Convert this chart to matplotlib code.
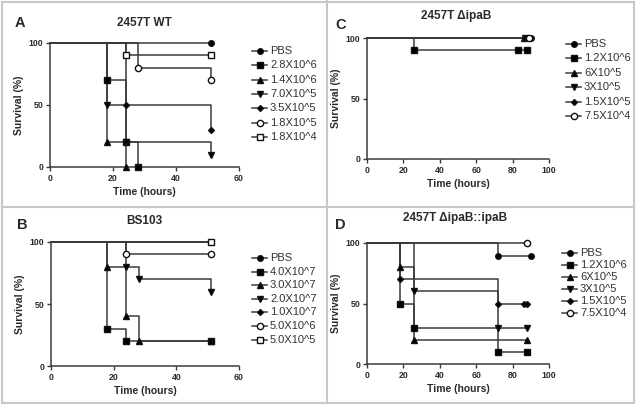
"""Kaplan-Meier survival curves, four strains"""

import matplotlib.pyplot as plt
from matplotlib.lines import Line2D
from matplotlib.patches import Rectangle

plt.rcParams['font.family'] = ['Liberation Sans', 'DejaVu Sans']

W, H = 636, 405

# panel A: 2457T WT
a_labels = ['PBS', '2.8X10^6', '1.4X10^6', '7.0X10^5', '3.5X10^5', '1.8X10^5', '1.8X10^4']
a_times = [[0, 51], [0, 18, 24, 28], [0, 18, 24], [0, 18, 24, 51],
           [0, 24, 51], [0, 28, 51], [0, 24, 51]]
a_surv = [[100, 100], [100, 70, 20, 0], [100, 20, 0], [100, 50, 20, 10],
          [100, 50, 30], [100, 80, 70], [100, 90, 90]]

# panel B: BS103
b_labels = ['PBS', '4.0X10^7', '3.0X10^7', '2.0X10^7', '1.0X10^7', '5.0X10^6', '5.0X10^5']
b_times = [[0, 51], [0, 18, 24, 51], [0, 18, 24, 28, 51], [0, 24, 28, 51],
           [0, 51], [0, 24, 51], [0, 51]]
b_surv = [[100, 100], [100, 30, 20, 20], [100, 80, 40, 20, 20], [100, 80, 70, 60],
          [100, 100], [100, 90, 90], [100, 100]]

# panel C: 2457T ΔipaB
c_labels = ['PBS', '1.2X10^6', '6X10^5', '3X10^5', '1.5X10^5', '7.5X10^4']
c_times = [[0, 90], [0, 26, 83, 88], [0, 86], [0, 87], [0, 88], [0, 89]]
c_surv = [[100, 100], [100, 90, 90, 90], [100, 100], [100, 100], [100, 100], [100, 100]]

# panel D: 2457T ΔipaB::ipaB
d_labels = ['PBS', '1.2X10^6', '6X10^5', '3X10^5', '1.5X10^5', '7.5X10^4']
d_times = [[0, 72, 90], [0, 18, 26, 72, 88], [0, 18, 26, 88], [0, 26, 72, 88],
           [0, 18, 72, 86, 88], [0, 88]]
d_surv = [[100, 88.9, 88.9], [100, 50, 30, 10, 10], [100, 80, 20, 20], [100, 60, 30, 30],
          [100, 70, 50, 50, 50], [100, 100]]

styles = [('o', 'k', 4), ('s', 'k', 4), ('^', 'k', 4), ('v', 'k', 4),
          ('D', 'k', 3), ('o', 'w', 4.5), ('s', 'w', 4.5)]
LINE = '#3a3a3a'
TXT = '#2a2a2a'

fig = plt.figure(figsize=(W / 100, H / 100), dpi=100)


def px_axes(x0, x1, ytop, ybot):
    return fig.add_axes([x0 / W, 1 - ybot / H, (x1 - x0) / W, (ybot - ytop) / H])


def panel(box, letter, title, times, surv, labels, xmax, legend, head):
    ax = px_axes(*box)
    for i, (t, s) in enumerate(zip(times, surv)):
        m, fc, ms = styles[i]
        ax.step(t, s, where='post', color=LINE, lw=1.1, clip_on=False, zorder=2)
        ax.plot(t[1:], s[1:], ls='none', marker=m, mfc=fc, mec='#111111',
                mew=1.0, ms=ms, clip_on=False, zorder=3)
    ax.set_xlim(0, xmax)
    ax.set_ylim(0, 100)
    ax.set_xticks(range(0, xmax + 1, 20))
    ax.set_yticks([0, 50, 100])
    for side in ['top', 'right']:
        ax.spines[side].set_visible(False)
    for side in ['left', 'bottom']:
        ax.spines[side].set_color(LINE)
        ax.spines[side].set_linewidth(1.1)
    ax.tick_params(length=3, width=1, color=LINE, labelsize=6.3, pad=2)
    for lab in ax.get_xticklabels() + ax.get_yticklabels():
        lab.set_fontweight('bold')
        lab.set_color(TXT)
    ax.set_xlabel('Time (hours)', fontsize=7.5, fontweight='bold', color=TXT, labelpad=3)
    ax.set_ylabel('Survival (%)', fontsize=7.5, fontweight='bold', color=TXT, labelpad=3)

    # title and panel letter
    tx, ty, lx, ly = head
    fig.text(tx / W, 1 - ty / H, title, fontsize=8.5, fontweight='bold',
             color=TXT, ha='center', va='center')
    fig.text(lx / W, 1 - ly / H, letter, fontsize=10.5, fontweight='bold',
             color=TXT, ha='left', va='center')

    # legend
    x0, y0, dy = legend
    for i, lab in enumerate(labels):
        m, fc, ms = styles[i]
        y = 1 - (y0 + i * dy) / H
        fig.add_artist(Line2D([x0 / W, (x0 + 7.5) / W, (x0 + 15) / W], [y, y, y],
                              color=LINE, lw=1.1, marker=m, markevery=[1], mfc=fc,
                              mec='#111111', mew=1.0, ms=ms))
        fig.text((x0 + 18) / W, y, lab, fontsize=8, color='#333333', va='center')
    return ax


axA = panel((50, 239, 43, 167), 'A', '2457T WT', a_times, a_surv, a_labels, 60,
            (252, 51, 14.3), (144, 23, 15, 23))
axB = panel((51, 239, 242, 366), 'B', 'BS103', b_times, b_surv, b_labels, 60,
            (252, 258, 13.6), (144, 221, 17, 225))
axC = panel((367, 549, 38, 159), 'C', '2457T \u0394ipaB', c_times, c_surv, c_labels, 100,
            (566, 44, 14.4), (456, 16, 335, 25))
axD = panel((367, 549, 243, 364), 'D', '2457T \u0394ipaB::ipaB', d_times, d_surv, d_labels, 100,
            (562, 253, 11.9), (455, 218, 335, 225))

# panel frames
gray = '#c8c8c8'
fig.add_artist(Rectangle((2 / W, 2 / H), 632 / W, 401 / H, fill=False, ec=gray, lw=1.5))
fig.add_artist(Line2D([327 / W, 327 / W], [2 / H, 1 - 1 / H], color=gray, lw=1.5))
fig.add_artist(Line2D([2 / W, 634 / W], [1 - 207 / H, 1 - 207 / H], color=gray, lw=1.5))

fig.savefig('out.png', dpi=100)
